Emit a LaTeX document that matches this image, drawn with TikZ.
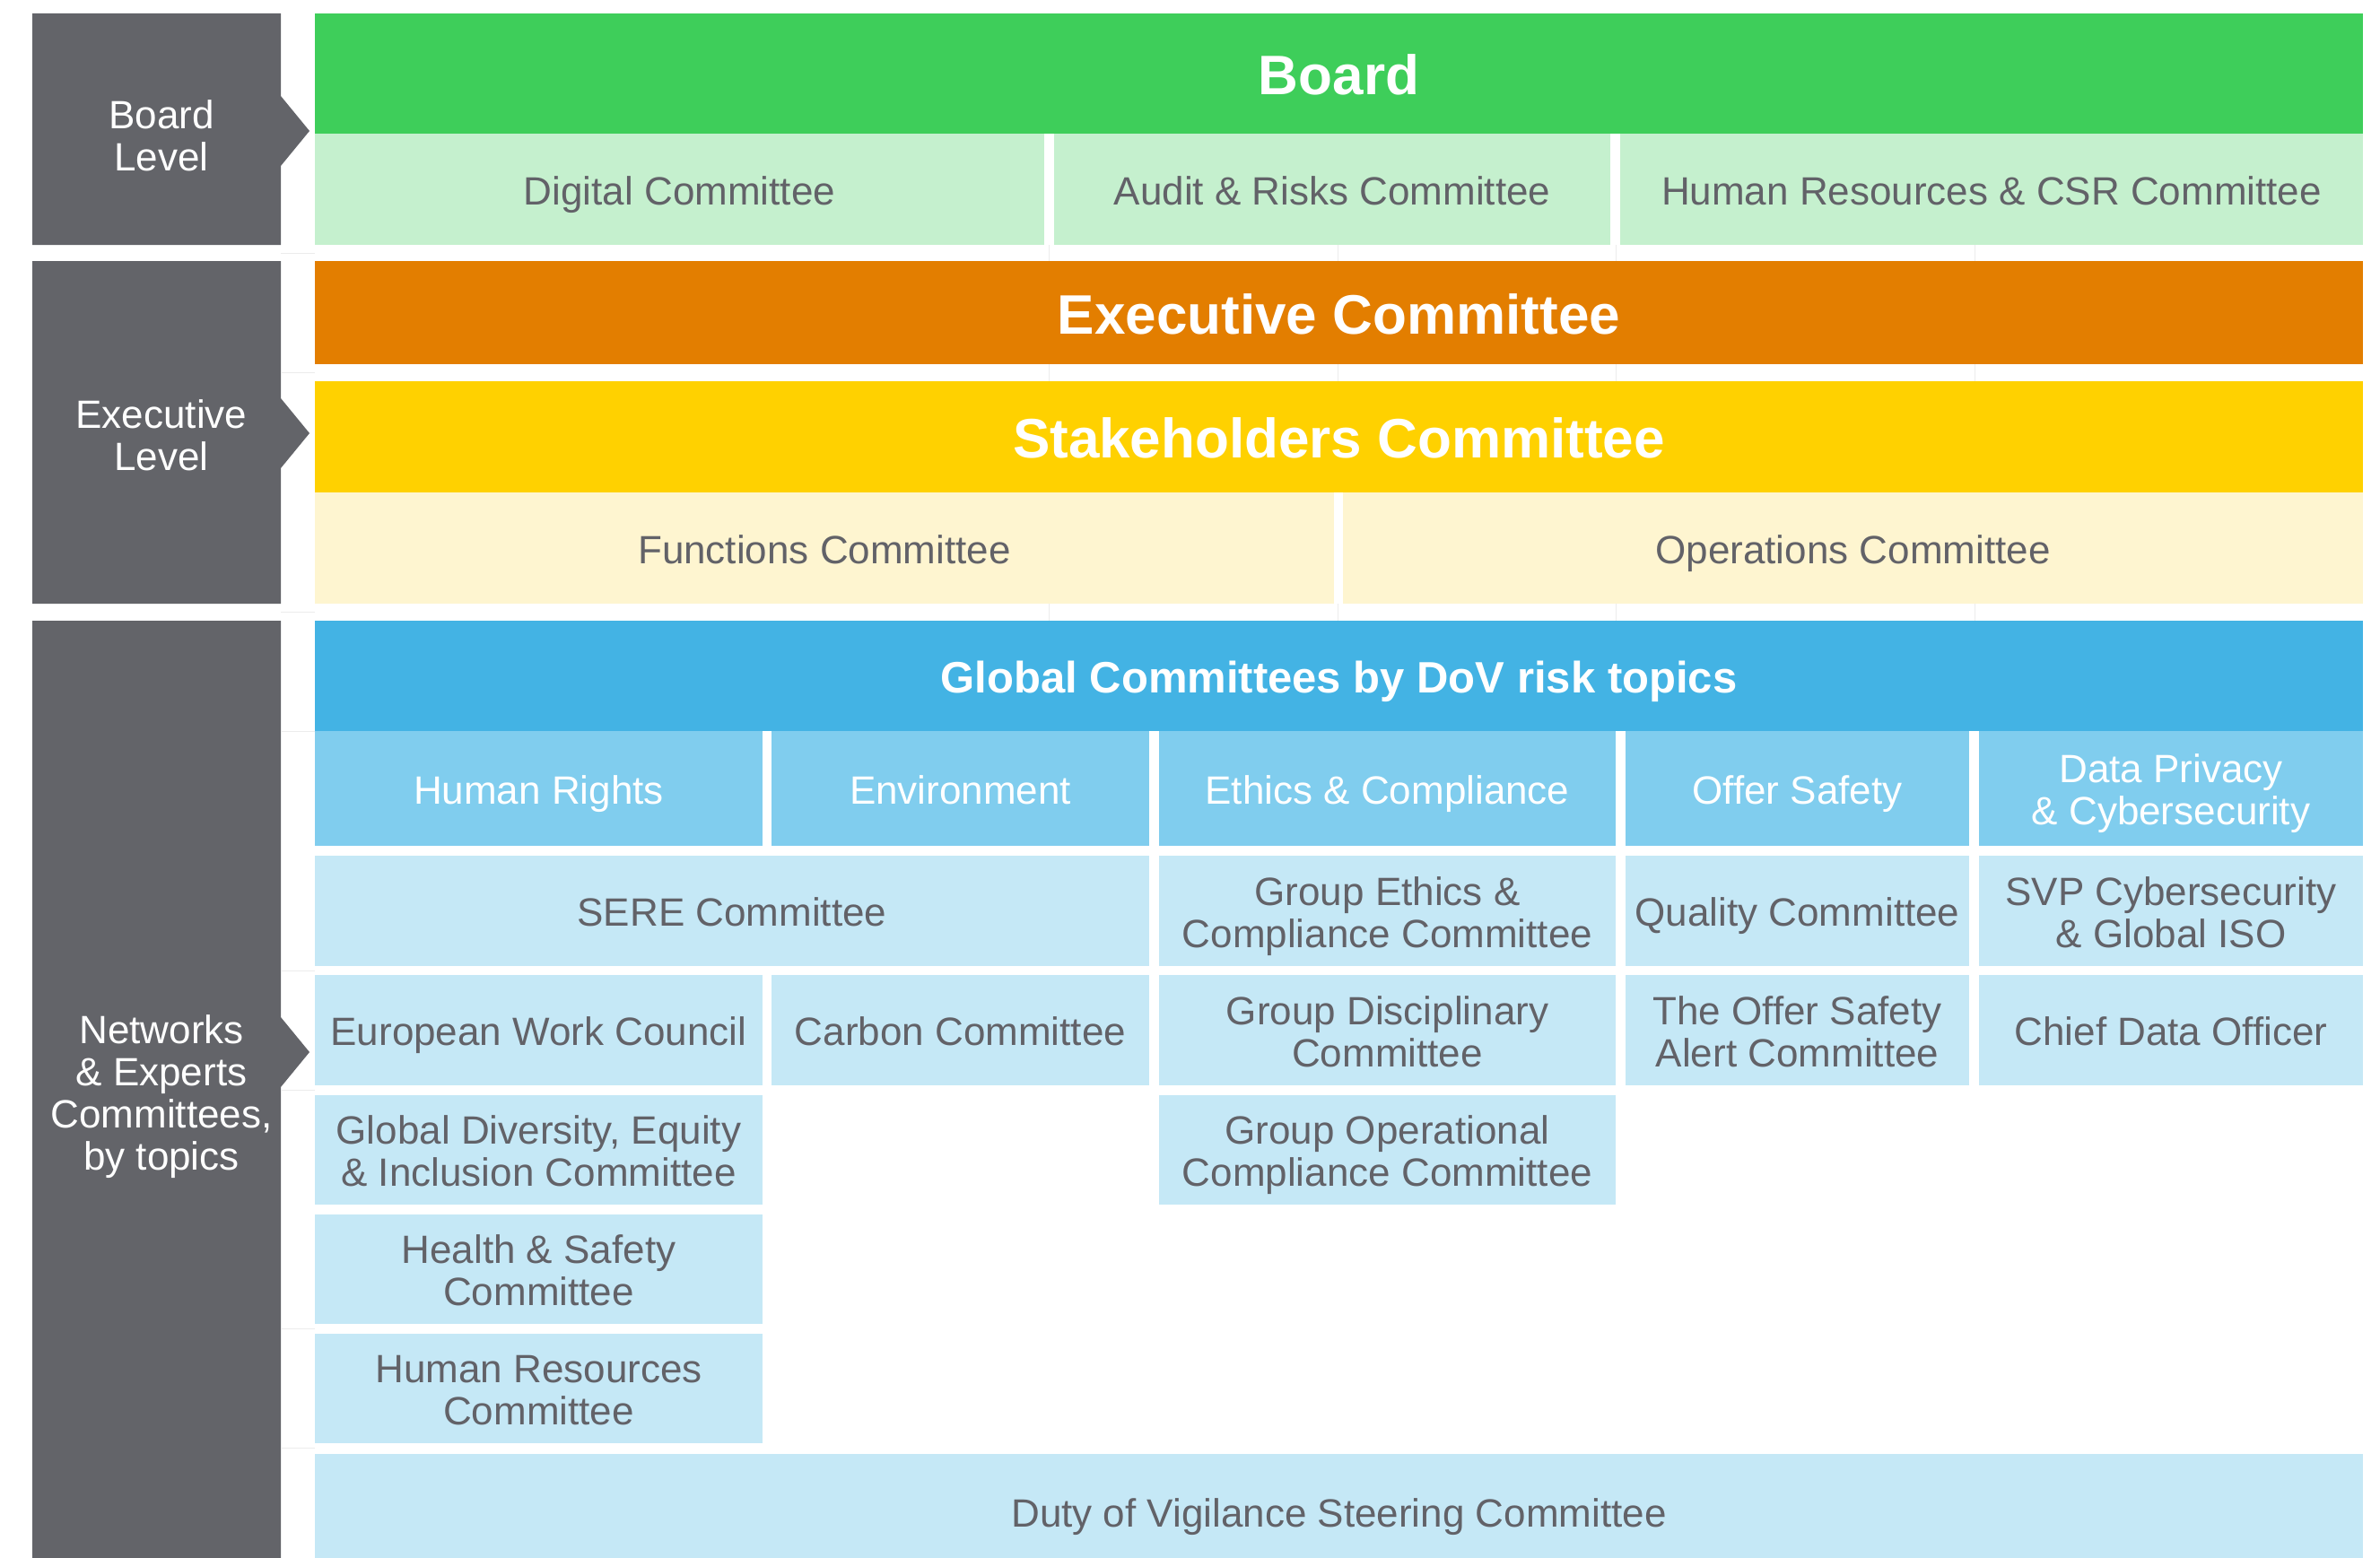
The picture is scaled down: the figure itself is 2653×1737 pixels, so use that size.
\documentclass[tikz,border=0pt]{standalone}
\usepackage{fontspec}
\setmainfont{Liberation Sans}
\definecolor{lvlgrey}{RGB}{99,100,105}
\definecolor{txtgrey}{RGB}{98,98,104}
\definecolor{boardgreen}{RGB}{62,206,90}
\definecolor{boardlight}{RGB}{197,240,206}
\definecolor{execorange}{RGB}{227,126,0}
\definecolor{stakeyellow}{RGB}{255,209,0}
\definecolor{stakecream}{RGB}{254,245,208}
\definecolor{globalblue}{RGB}{67,179,228}
\definecolor{topicblue}{RGB}{128,205,238}
\definecolor{netblue}{RGB}{197,232,246}

\begin{document}
\begin{tikzpicture}[x=1pt,y=-1pt,
  vfix/.style 2 args={execute at begin node={\rule{0pt}{#1pt}},
    execute at end node={\rule[-#2pt]{0pt}{#2pt}}},
  base/.style={inner sep=0pt, outer sep=0pt, align=center},
  cell/.style={base, text=txtgrey, font=\fontsize{44}{47}\selectfont},
  one/.style={vfix={44.4}{9.5}},
  two/.style={vfix={91.4}{9.5}},
  four/.style={vfix={185.4}{9.5}},
  size/.style 2 args={minimum width=#1pt, minimum height=#2pt},
  title/.style={base, text=white, vfix={61.8}{14}, font=\bfseries\fontsize{62}{66}\selectfont},
  topic/.style={cell, fill=topicblue, text=white},
  net/.style={cell, fill=netblue},
  lvl/.style={cell, text=white},
  gridline/.style={gray!15, line width=1pt}]
\useasboundingbox (0,0) rectangle (2653,1737);

% level column
\fill[lvlgrey] (36,15) -- (313,15) -- (313,107) -- (345,146) -- (313,185)
  -- (313,273) -- (36,273) -- cycle;
\fill[lvlgrey] (36,291) -- (313,291) -- (313,444) -- (345,483) -- (313,522)
  -- (313,673) -- (36,673) -- cycle;
\fill[lvlgrey] (36,692) -- (313,692) -- (313,1134) -- (345,1173) -- (313,1212)
  -- (313,1737) -- (36,1737) -- cycle;
\node[lvl, two] (boardlvl) at (180,150) {Board\\Level};
\node[lvl, two] (execlvl) at (180,484) {Executive\\Level};
\node[lvl, four] (netlvl) at (180,1217) {Networks\\\& Experts\\Committees,\\by topics};

% faint table lines
\foreach \y in {282,415,682,815,1082,1215,1481,1614} {\draw[gridline] (313,\y) -- (351,\y);}
\foreach \x in {1169,1491,1801,2201} {\draw[gridline] (\x,273) -- (\x,291);
  \draw[gridline] (\x,406) -- (\x,425); \draw[gridline] (\x,673) -- (\x,692);}

% board level
\node[title, fill=boardgreen, size={2283}{134}] (board) at (1492.5,82) {Board};
\node[cell, one, fill=boardlight, size={813}{124}] (digital) at (757.5,211) {Digital Committee};
\node[cell, one, fill=boardlight, size={620}{124}] (audit) at (1485,211) {Audit \& Risks Committee};
\node[cell, one, fill=boardlight, size={828}{124}] (hrcsr) at (2220,211) {Human Resources \& CSR Committee};

% executive level
\node[title, fill=execorange, size={2283}{115}] (exec) at (1492.5,348.5) {Executive Committee};
\node[title, fill=stakeyellow, size={2283}{124}] (stake) at (1492.5,487) {Stakeholders Committee};
\node[cell, one, fill=stakecream, size={1136}{124}] (functions) at (919,611) {Functions Committee};
\node[cell, one, fill=stakecream, size={1137}{124}] (operations) at (2065.5,611) {Operations Committee};

% networks & experts
\node[base, text=white, fill=globalblue, size={2283}{123}, vfix={48.6}{11},
  font=\bfseries\fontsize{49}{52}\selectfont] (global) at (1492.5,753.5) {Global Committees by DoV risk topics};
\node[topic, one, size={499}{128}] (humanrights) at (600.5,879) {Human Rights};
\node[topic, one, size={421}{128}] (environment) at (1070.5,879) {Environment};
\node[topic, one, size={509}{128}] (ethics) at (1546.5,879) {Ethics \& Compliance};
\node[topic, one, size={383}{128}] (offer) at (2003.5,879) {Offer Safety};
\node[topic, two, size={428}{128}] (privacy) at (2420,879) {Data Privacy\\\& Cybersecurity};

\node[net, one, size={930}{123}] (sere) at (816,1015.5) {SERE Committee};
\node[net, two, size={509}{123}] (groupethics) at (1546.5,1015.5) {Group Ethics \&\\Compliance Committee};
\node[net, one, size={383}{123}] (quality) at (2003.5,1015.5) {Quality Committee};
\node[net, two, size={428}{123}] (svp) at (2420,1015.5) {SVP Cybersecurity\\\& Global ISO};

\node[net, one, size={499}{123}] (ewc) at (600.5,1148.5) {European Work Council};
\node[net, one, size={421}{123}] (carbon) at (1070.5,1148.5) {Carbon Committee};
\node[net, two, size={509}{123}] (disciplinary) at (1546.5,1148.5) {Group Disciplinary\\Committee};
\node[net, two, size={383}{123}] (alert) at (2003.5,1148.5) {The Offer Safety\\Alert Committee};
\node[net, one, size={428}{123}] (cdo) at (2420,1148.5) {Chief Data Officer};

\node[net, two, size={499}{122}] (diversity) at (600.5,1282) {Global Diversity, Equity\\\& Inclusion Committee};
\node[net, two, size={509}{122}] (opcompliance) at (1546.5,1282) {Group Operational\\Compliance Committee};
\node[net, two, size={499}{122}] (health) at (600.5,1415) {Health \& Safety\\Committee};
\node[net, two, size={499}{122}] (hr) at (600.5,1548) {Human Resources\\Committee};

\node[net, one, size={2283}{128}] (duty) at (1492.5,1685) {Duty of Vigilance Steering Committee};
\end{tikzpicture}
\end{document}
